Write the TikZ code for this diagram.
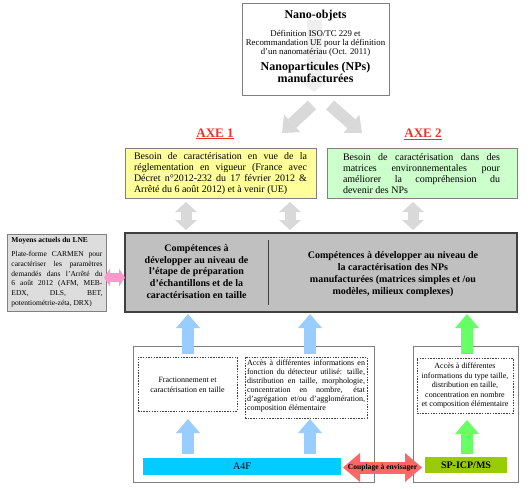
\documentclass[tikz,border=0pt]{standalone}
\usepackage{fontspec}
\setmainfont{Liberation Serif}
\usetikzlibrary{arrows.meta}
\definecolor{frame}{HTML}{808080}
\definecolor{darkframe}{HTML}{404040}
\definecolor{lightarrow}{HTML}{D9D9D9}
\definecolor{faintarrow}{HTML}{EFEFEF}
\definecolor{yel}{HTML}{FFFF99}
\definecolor{grn}{HTML}{CCFFCC}
\definecolor{compgrey}{HTML}{C0C0C0}
\definecolor{lnegrey}{HTML}{DDDDDD}
\definecolor{bluearr}{HTML}{99CCFF}
\definecolor{greenarr}{HTML}{66FF66}
\definecolor{pinkarr}{HTML}{FF99CC}
\definecolor{redarr}{HTML}{FF6666}
\definecolor{afourf}{HTML}{00CCFF}
\definecolor{spicp}{HTML}{99CC00}
\definecolor{axered}{HTML}{E8322B}
\begin{document}
\begin{tikzpicture}[x=1pt,y=-1pt,
  box/.style={draw=frame, line width=0.8pt, inner sep=0pt, outer sep=0pt},
  dbox/.style={draw=darkframe, line width=0.6pt, dash pattern=on 1.5pt off 1.2pt, inner sep=0pt, outer sep=0pt, fill=white},
  txt/.style={inner sep=0pt, outer sep=0pt},
  bigarrow/.style={line width=12pt, draw=#1, -{Triangle[length=14pt,width=24pt,line width=0pt]}},
  greydbl/.style={line width=11pt, draw=lightarrow, {Triangle[length=10pt,width=22pt,line width=0pt]}-{Triangle[length=10pt,width=22pt,line width=0pt]}},
  pinkdbl/.style={line width=9pt, draw=pinkarr, {Triangle[length=6pt,width=18pt,line width=0pt]}-{Triangle[length=6pt,width=18pt,line width=0pt]}},
  reddbl/.style={line width=12pt, draw=redarr, {Triangle[length=17pt,width=29pt,line width=0pt]}-{Triangle[length=17pt,width=29pt,line width=0pt]}},
  axelabel/.style={txt, text=axered, font=\bfseries\fontsize{13}{15}\selectfont},
]
\useasboundingbox (0,0) rectangle (528,488);

% ---------- top box ----------
\node[box, fill=white, minimum width=147pt, minimum height=92pt] (nano) at (315.5,49) {};
\coordinate (faintS) at (314,20);
\coordinate (faintE) at (314,92);
\draw[line width=15pt, draw=faintarrow, -{Triangle[length=13pt,width=32pt,line width=0pt]}] (faintS) -- (faintE);
\node[txt, font=\bfseries\fontsize{12}{14}\selectfont] (nanotitle) at (315.5,16) {Nano-objets};
\node[txt, align=center, font=\fontsize{8.8}{9.3}\selectfont] (nanodef) at (315.5,43.5)
  {Définition ISO/TC 229 et\\Recommandation UE pour la définition\\d’un nanomatériau (Oct. 2011)};
\node[txt, align=center, font=\bfseries\fontsize{12}{11.8}\selectfont] (nanonp) at (315.5,72.5)
  {Nanoparticules (NPs)\\manufacturées};

% ---------- diagonal arrows ----------
\coordinate (dlS) at (312,105);
\coordinate (dlE) at (282,133);
\coordinate (drS) at (330,105);
\coordinate (drE) at (362,133);
\draw[bigarrow=lightarrow] (dlS) -- (dlE);
\draw[bigarrow=lightarrow] (drS) -- (drE);

% ---------- AXE labels ----------
\node[axelabel] (axe1) at (215,134) {\underline{AXE 1}};
\node[axelabel] (axe2) at (423,134) {\underline{AXE 2}};

% ---------- AXE boxes ----------
\node[box, fill=yel, minimum width=191pt, minimum height=50pt] (axe1box) at (220.5,173) {};
\node[txt, text width=173pt, align=justify, font=\fontsize{10}{11}\selectfont] (axe1txt) at (220.5,174)
  {Besoin de caractérisation en vue de la\linebreak réglementation en vigueur (France avec\linebreak Décret n°2012-232 du 17 février 2012 \&\linebreak Arrêté du 6 août 2012) et à venir (UE)};
\node[box, fill=grn, minimum width=190pt, minimum height=50pt] (axe2box) at (422,173) {};
\node[txt, text width=157pt, align=justify, font=\fontsize{10}{11}\selectfont] (axe2txt) at (421.5,174)
  {Besoin de caractérisation dans des\linebreak matrices environnementales pour\linebreak améliorer la compréhension du\linebreak devenir des NPs};

% ---------- grey double arrows ----------
\coordinate (ga1t) at (186,202); \coordinate (ga1b) at (186,230);
\coordinate (ga2t) at (290,202); \coordinate (ga2b) at (290,230);
\coordinate (ga3t) at (413,202); \coordinate (ga3b) at (413,230);
\draw[greydbl] (ga1t) -- (ga1b);
\draw[greydbl] (ga2t) -- (ga2b);
\draw[greydbl] (ga3t) -- (ga3b);

% ---------- competences box ----------
\node[draw=darkframe, line width=1.3pt, fill=compgrey, inner sep=0pt, minimum width=392pt, minimum height=79pt] (comp) at (321,272.5) {};
\coordinate (divT) at (268,240);
\coordinate (divB) at (268,305);
\draw[darkframe, line width=0.8pt] (divT) -- (divB);
\node[txt, align=center, font=\bfseries\fontsize{10}{11.7}\selectfont] (comp1) at (196.5,271.5)
  {Compétences à\\développer au niveau de\\l’étape de préparation\\d’échantillons et de la\\caractérisation en taille};
\node[txt, align=center, font=\bfseries\fontsize{10}{12.2}\selectfont] (comp2) at (393,274)
  {Compétences à développer au niveau de\\la caractérisation des NPs\\manufacturées (matrices simples et /ou\\modèles, milieux complexes)};

% ---------- LNE box ----------
\node[box, fill=lnegrey, minimum width=99pt, minimum height=77pt] (lne) at (56.5,272.5) {};
\node[txt, text width=91pt, align=justify, font=\fontsize{7.5}{9.8}\selectfont] (lnetxt) at (57,272)
  {{\bfseries\fontsize{7.5}{9}\selectfont Moyens actuels du LNE}\par\vspace{4.5pt}
   Plate-forme CARMEN pour\linebreak caractériser les paramètres\linebreak demandés dans l’Arrêté du\linebreak 6 août 2012 (AFM, MEB-\linebreak EDX, DLS, BET,\linebreak potentiométrie-zéta, DRX)};
\coordinate (pinkL) at (104,277.5);
\coordinate (pinkR) at (125,277.5);
\draw[pinkdbl] (pinkL) -- (pinkR);

% ---------- lower containers ----------
\node[box, fill=white, minimum width=241pt, minimum height=136pt] (cont1) at (253.5,414) {};
\node[box, fill=white, minimum width=105pt, minimum height=136pt] (cont2) at (465.5,414) {};

\node[dbox, minimum width=99pt, minimum height=54pt] (f1) at (187.5,384) {};
\node[txt, align=center, font=\fontsize{8}{10}\selectfont] (f1txt) at (187.5,384.5)
  {Fractionnement et\\caractérisation en taille};
\node[dbox, minimum width=122pt, minimum height=61pt] (f2) at (306,387.5) {};
\node[txt, text width=118pt, align=justify, font=\fontsize{8}{9}\selectfont] (f2txt) at (306,386.5)
  {Accès à différentes informations en\linebreak fonction du détecteur utilisé: taille,\linebreak distribution en taille, morphologie,\linebreak concentration en nombre, état\linebreak d’agrégation et/ou d’agglomération,\linebreak composition élémentaire};
\node[dbox, minimum width=96pt, minimum height=55pt] (f3) at (465,385.5) {};
\node[txt, align=center, font=\fontsize{8}{9.5}\selectfont] (f3txt) at (465,386)
  {Accès à différentes\\informations du type taille,\\distribution en taille,\\concentration en nombre\\et composition élémentaire};

% ---------- bars ----------
\node[fill=afourf, inner sep=0pt, minimum width=198pt, minimum height=17pt, font=\fontsize{10}{12}\selectfont] (a4f) at (242,466.5) {A4F};
\node[fill=spicp, inner sep=0pt, minimum width=82pt, minimum height=16pt, font=\bfseries\fontsize{10}{12}\selectfont] (sp) at (466,465) {SP-ICP/MS};

% ---------- up arrows ----------
\coordinate (bu1s) at (188,354); \coordinate (bu1e) at (188,314);
\coordinate (bu2s) at (310,354); \coordinate (bu2e) at (310,314);
\coordinate (gu1s) at (467,354); \coordinate (gu1e) at (467,314);
\coordinate (bl1s) at (188,454); \coordinate (bl1e) at (188,419);
\coordinate (bl2s) at (310,454); \coordinate (bl2e) at (310,419);
\coordinate (gl1s) at (467,454); \coordinate (gl1e) at (467,420);
\draw[bigarrow=bluearr] (bu1s) -- (bu1e);
\draw[bigarrow=bluearr] (bu2s) -- (bu2e);
\draw[bigarrow=greenarr] (gu1s) -- (gu1e);
\draw[bigarrow=bluearr] (bl1s) -- (bl1e);
\draw[bigarrow=bluearr] (bl2s) -- (bl2e);
\draw[bigarrow=greenarr] (gl1s) -- (gl1e);

% ---------- coupling arrow ----------
\coordinate (redL) at (343,467.5);
\coordinate (redR) at (422,467.5);
\draw[reddbl] (redL) -- (redR);
\node[txt, font=\bfseries\fontsize{7.6}{9.5}\selectfont] (coupl) at (382.5,467.5) {Couplage à envisager};
\end{tikzpicture}
\end{document}
